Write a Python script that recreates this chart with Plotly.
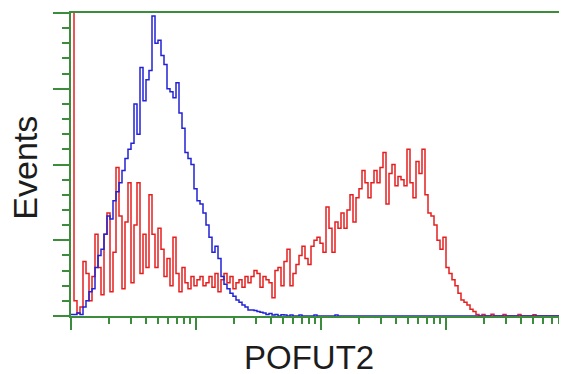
import numpy as np
import plotly.graph_objects as go

# Histogram bin layout: log-scale channels, 0.024 decades per bin
BIN_WIDTH_DECADES = 0.024

# Isotype / control (blue) counts per bin
blue_counts = [
    0.5, 0.5, 1, 0.5, 3, 5, 8, 9, 16, 20,
    22, 27, 33, 32, 38, 41, 44, 48, 52, 55,
    57, 70, 60, 82, 71, 78, 81, 99, 90, 91,
    86, 83, 75, 74, 72, 77, 67, 62, 54, 52,
    50, 42, 38, 37, 34, 30, 26, 21, 23, 19,
    13, 10.5, 9, 7.5, 6.5, 5.3, 4.5, 3.6, 3, 2,
    2, 1.8, 1.5, 1.2, 1.0, 0.5, 0.8, 0.3, 0.5, 0,
    0.4, 0.3, 0, 0.3, 0, 0, 0.3, 0, 0, 0,
    0, 0.3, 0, 0, 0, 0, 0, 0, 0.3, 0,
    0, 0, 0, 0, 0, 0, 0, 0, 0, 0,
    0, 0, 0, 0, 0, 0, 0, 0, 0, 0,
    0, 0, 0, 0, 0, 0, 0, 0, 0, 0,
    0, 0, 0, 0, 0, 0, 0, 0, 0, 0,
    0, 0, 0, 0, 0, 0, 0, 0, 0, 0,
    0, 0, 0, 0, 0, 0, 0, 0, 0, 0,
    0, 0, 0, 0, 0, 0, 0, 0, 0, 0,
    0, 0, 0, 0, 0,
]

# POFUT2 antibody (red) counts per bin
red_counts = [
    130, 5, 1, 3, 18, 14, 5, 13, 27, 16,
    7, 27, 34, 8, 21, 49, 33, 9, 31, 44,
    11, 30, 44, 14, 27, 16, 40, 27, 16, 29,
    22, 13, 19, 10, 26, 14, 8, 16, 11, 9,
    13, 10, 12, 13, 10, 11, 13, 9.5, 14, 8,
    12, 14, 11, 13, 9, 11, 12, 9.5, 13, 11,
    13, 15, 14, 9.5, 13, 12, 11, 6, 15, 16,
    10, 18, 22, 10, 14, 17, 20, 23, 19, 17,
    23, 25, 26, 24, 21, 36, 29, 21, 31, 29,
    34, 29, 35, 40, 31, 39, 42, 48, 44, 39,
    44, 48, 44, 49, 54, 37, 47, 50, 43, 46,
    45, 43, 55, 44, 39, 51, 47, 55, 40, 34,
    33, 30, 25, 22, 26, 16, 14, 12, 10, 7.5,
    5.3, 4.5, 3.6, 2.2, 1.5, 0.5, 0, 0.5, 0, 0,
    0.6, 0, 0, 0, 0.5, 0, 0, 0, 0, 0.5,
    0, 0, 0, 0, 0.4, 0, 0, 0, 0, 0,
    0, 0, 0, 0, 0,
]

x_label = "POFUT2"
y_label = "Events"

n_bins = len(red_counts)
bin_left = 10 ** (np.arange(n_bins + 1) * BIN_WIDTH_DECADES)

def step_xy(counts):
    y = list(counts) + [counts[-1]]
    return bin_left, y

GREEN = "#3b8c3b"
LINE_FONT = "Liberation Sans, Arial, sans-serif"

fig = go.Figure()
rx, ry = step_xy(red_counts)
fig.add_trace(go.Scatter(x=rx, y=ry, mode="lines", line=dict(color="#e51f1f", width=1.5, shape="hv"),
                         showlegend=False, hoverinfo="skip"))
bx, by = step_xy(blue_counts)
fig.add_trace(go.Scatter(x=bx, y=by, mode="lines", line=dict(color="#2323d6", width=1.5, shape="hv"),
                         showlegend=False, hoverinfo="skip"))

major_x = [1, 10, 100, 1000]
minor_x = [m * d for d in [1, 10, 100, 1000] for m in range(2, 10)]

# page body has an 8px default margin, so the figure is sized 8px smaller
fig.update_layout(
    width=559, height=366,
    margin=dict(l=63, r=0, t=5, b=58),
    paper_bgcolor="white", plot_bgcolor="white",
    showlegend=False,
    xaxis=dict(
        type="log", range=[0, 3.968],
        showgrid=False, zeroline=False,
        showline=True, linecolor=GREEN, linewidth=2, mirror=True,
        ticks="outside", tickvals=major_x, ticklen=12, tickwidth=2, tickcolor=GREEN,
        showticklabels=False,
        minor=dict(ticks="outside", tickvals=minor_x, ticklen=6, tickwidth=2, tickcolor=GREEN, showgrid=False),
    ),
    yaxis=dict(
        range=[0, 100],
        showgrid=False, zeroline=False,
        showline=True, linecolor=GREEN, linewidth=2,
        ticks="outside", tick0=0, dtick=25, ticklen=16, tickwidth=2, tickcolor=GREEN,
        showticklabels=False,
        minor=dict(ticks="outside", tick0=0, dtick=5, ticklen=7, tickwidth=2, tickcolor=GREEN, showgrid=False),
    ),
    annotations=[
        dict(text=y_label, xref="paper", yref="paper", x=-0.0944, y=0.49,
             xanchor="center", yanchor="middle", textangle=-90, showarrow=False,
             font=dict(family=LINE_FONT, size=34, color="#1c1c1c")),
        dict(text=x_label, xref="paper", yref="paper", x=0.48, y=-0.137,
             xanchor="center", yanchor="middle", showarrow=False,
             font=dict(family=LINE_FONT, size=33, color="#1c1c1c")),
    ],
)

fig.write_html("out.html")
